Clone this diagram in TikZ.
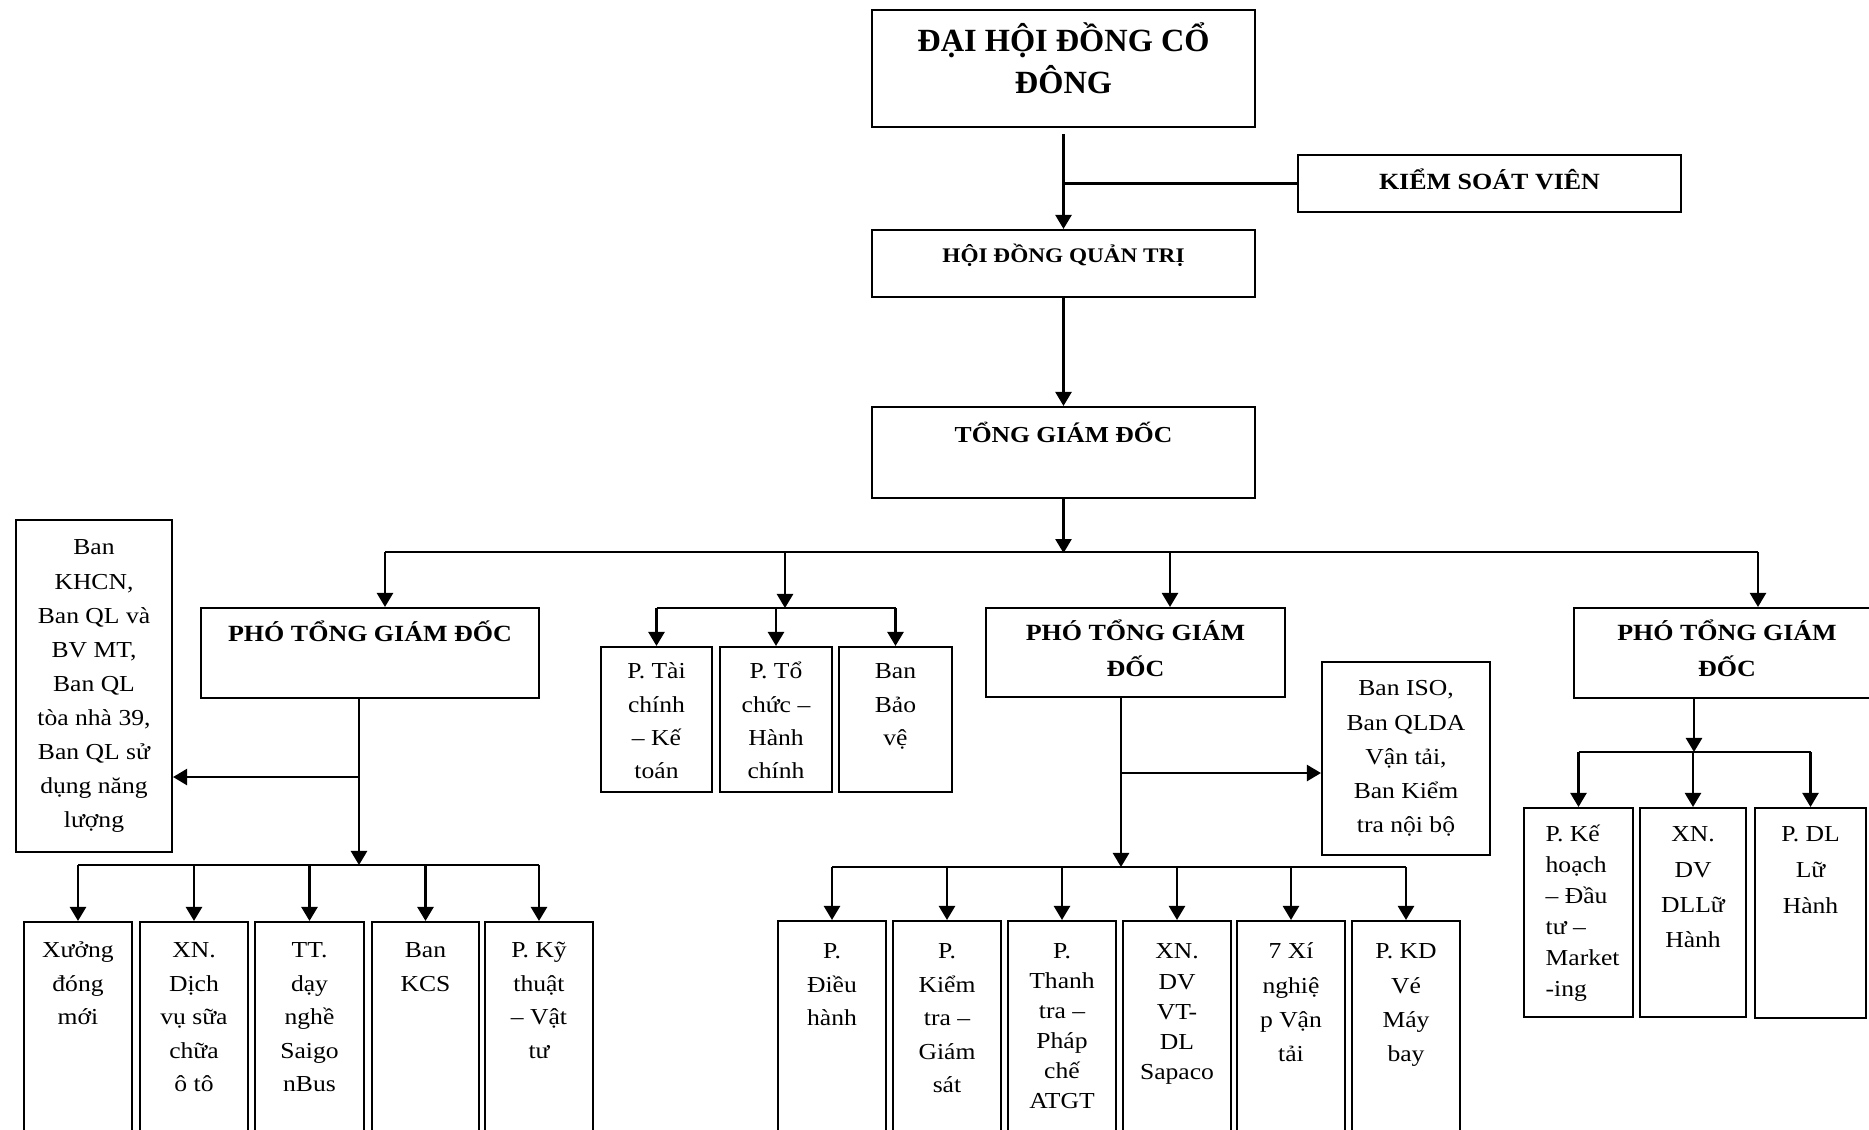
\documentclass[tikz,border=0pt]{standalone}
\usepackage{fontspec}
\setmainfont{Liberation Serif}[FakeStretch=1.12]
\newfontfamily\titlefont{Liberation Serif}
\usetikzlibrary{arrows.meta,fit,calc}
\newcommand\cstack[2]{\vtop{\baselineskip=#1\relax\lineskiplimit=-\maxdimen\lineskip=0pt\halign{\hfil##\hfil\cr#2\crcr}}}
\newcommand\lstack[2]{\vtop{\baselineskip=#1\relax\lineskiplimit=-\maxdimen\lineskip=0pt\halign{##\hfil\cr#2\crcr}}}
\tikzset{
  box/.style={draw, inner sep=0pt, line width=0.6pt},
  ln/.style={line width=0.6pt},
  arr/.style={line width=0.6pt, -{Triangle[width=4.6pt,length=4pt]}},
  txt/.style={inner sep=0pt, anchor=base, font=\fontsize{6.5}{9.5}\selectfont},
  ttl/.style={inner sep=0pt, anchor=base, font=\bfseries\fontsize{6.6}{10}\selectfont},
}
\begin{document}
\begin{tikzpicture}[x=0.01cm,y=-0.01cm]
\clip (0,0) rectangle (1869,1129);
\fill[white] (0,0) rectangle (1869,1129);
% boxes
\node[box,fit={(872,10)(1255,127)}] (dh) {};
\node[box,fit={(1298,155)(1681,212)}] (ksv) {};
\node[box,fit={(872,230)(1255,297)}] (hd) {};
\node[box,fit={(872,407)(1255,498)}] (tgd) {};
\node[box,fit={(201,608)(539,698)}] (p1) {};
\node[box,fit={(986,608)(1285,697)}] (p2) {};
\node[box,fit={(1574,608)(1880,698)}] (p3) {};
\node[box,fit={(16,520)(172,852)}] (khcn) {};
\node[box,fit={(601,647)(712,792)}] (tc) {};
\node[box,fit={(720,647)(832,792)}] (tchc) {};
\node[box,fit={(839,647)(952,792)}] (bv) {};
\node[box,fit={(1322,662)(1490,855)}] (iso) {};
\node[box,fit={(24,922)(132,1160)}] (xuong) {};
\node[box,fit={(140,922)(248,1160)}] (xndv) {};
\node[box,fit={(255,922)(364,1160)}] (tt) {};
\node[box,fit={(372,922)(479,1160)}] (kcs) {};
\node[box,fit={(485,922)(593,1160)}] (kt) {};
\node[box,fit={(778,921)(886,1160)}] (dieu) {};
\node[box,fit={(893,921)(1001,1160)}] (kiem) {};
\node[box,fit={(1008,921)(1116,1160)}] (thanh) {};
\node[box,fit={(1123,921)(1231,1160)}] (sapaco) {};
\node[box,fit={(1237,921)(1345,1160)}] (xinghiep) {};
\node[box,fit={(1352,921)(1460,1160)}] (kdve) {};
\node[box,fit={(1524,808)(1633,1017)}] (kh) {};
\node[box,fit={(1640,808)(1746,1017)}] (dllh) {};
\node[box,fit={(1755,808)(1866,1018)}] (pdl) {};
% texts
\node[inner sep=0pt,anchor=base,font=\titlefont\bfseries\fontsize{9.2}{12}\selectfont] (t-dh) at ($(dh.north)+(0,43)$) {\cstack{11.7pt}{ĐẠI HỘI ĐỒNG CỔ\cr ĐÔNG}};
\node[ttl] (t-ksv) at ($(ksv.north)+(0,36)$) {KIỂM SOÁT VIÊN};
\node[ttl,font=\bfseries\fontsize{5.9}{9}\selectfont] (t-hd) at ($(hd.north)+(0,34)$) {HỘI ĐỒNG QUẢN TRỊ};
\node[ttl,font=\bfseries\fontsize{6.5}{9}\selectfont] (t-tgd) at ($(tgd.north)+(0,37)$) {TỔNG GIÁM ĐỐC};
\node[ttl] (t-p1) at ($(p1.north)+(0,35)$) {PHÓ TỔNG GIÁM ĐỐC};
\node[ttl] (t-p2) at ($(p2.north)+(0,34)$) {\cstack{10pt}{PHÓ TỔNG GIÁM\cr ĐỐC}};
\node[ttl] (t-p3) at ($(p3.north)+(0,34)$) {\cstack{10pt}{PHÓ TỔNG GIÁM\cr ĐỐC}};
\node[txt] (t-khcn) at ($(khcn.north)+(0,36)$) {\cstack{9.7pt}{Ban\cr KHCN,\cr Ban QL và\cr BV MT,\cr Ban QL\cr tòa nhà 39,\cr Ban QL sử\cr dụng năng\cr lượng}};
\node[txt] (t-tc) at ($(tc.north)+(0,33)$) {\cstack{9.4pt}{P. Tài\cr chính\cr – Kế\cr toán}};
\node[txt] (t-tchc) at ($(tchc.north)+(0,33)$) {\cstack{9.4pt}{P. Tổ\cr chức –\cr Hành\cr chính}};
\node[txt] (t-bv) at ($(bv.north)+(0,33)$) {\cstack{9.4pt}{Ban\cr Bảo\cr vệ}};
\node[txt] (t-iso) at ($(iso.north)+(0,35)$) {\cstack{9.7pt}{Ban ISO,\cr Ban QLDA\cr Vận tải,\cr Ban Kiểm\cr tra nội bộ}};
\node[txt] (t-xuong) at ($(xuong.north)+(0,37)$) {\cstack{9.5pt}{Xưởng\cr đóng\cr mới}};
\node[txt] (t-xndv) at ($(xndv.north)+(0,37)$) {\cstack{9.5pt}{XN.\cr Dịch\cr vụ sữa\cr chữa\cr ô tô}};
\node[txt] (t-tt) at ($(tt.north)+(0,37)$) {\cstack{9.5pt}{TT.\cr dạy\cr nghề\cr Saigo\cr nBus}};
\node[txt] (t-kcs) at ($(kcs.north)+(0,37)$) {\cstack{9.5pt}{Ban\cr KCS}};
\node[txt] (t-kt) at ($(kt.north)+(0,37)$) {\cstack{9.5pt}{P. Kỹ\cr thuật\cr – Vật\cr tư}};
\node[txt] (t-dieu) at ($(dieu.north)+(0,39)$) {\cstack{9.5pt}{P.\cr Điều\cr hành}};
\node[txt] (t-kiem) at ($(kiem.north)+(0,39)$) {\cstack{9.5pt}{P.\cr Kiểm\cr tra –\cr Giám\cr sát}};
\node[txt] (t-thanh) at ($(thanh.north)+(0,39)$) {\cstack{8.5pt}{P.\cr Thanh\cr tra –\cr Pháp\cr chế\cr ATGT}};
\node[txt] (t-sapaco) at ($(sapaco.north)+(0,39)$) {\cstack{8.6pt}{XN.\cr DV\cr VT-\cr DL\cr Sapaco}};
\node[txt] (t-xinghiep) at ($(xinghiep.north)+(0,39)$) {\cstack{9.7pt}{7 Xí\cr nghiệ\cr p Vận\cr tải}};
\node[txt] (t-kdve) at ($(kdve.north)+(0,39)$) {\cstack{9.7pt}{P. KD\cr Vé\cr Máy\cr bay}};
\node[txt,anchor=base west] (t-kh) at ($(kh.north west)+(22,35)$) {\lstack{8.8pt}{P. Kế\cr hoạch\cr – Đầu\cr tư –\cr Market\cr -ing}};
\node[txt] (t-dllh) at ($(dllh.north)+(0,35)$) {\cstack{10pt}{XN.\cr DV\cr DLLữ\cr Hành}};
\node[txt] (t-pdl) at ($(pdl.north)+(0,35)$) {\cstack{10.2pt}{P. DL\cr Lữ\cr Hành}};
% connectors top
\draw[arr] ($(dh.south)+(0,6)$) -- (hd.north);
\draw[ln] (ksv.west) -- (ksv.west -| hd.north);
\draw[arr] (hd.south) -- (tgd.north);
\coordinate (bus) at ($(tgd.south)+(0,54)$);
\draw[arr] (tgd.south) -- (bus);
\coordinate (b1) at (385,552);
\coordinate (b2) at (785,552);
\coordinate (b3) at (1170,552);
\coordinate (b4) at (1758,552);
\draw[ln] (b1) -- (b4);
\draw[arr] (b1) -- (b1 |- p1.north);
\coordinate (m) at (785,608);
\draw[arr] (b2) -- (m);
\draw[arr] (b3) -- (b3 |- p2.north);
\draw[arr] (b4) -- (b4 |- p3.north);
% middle group
\draw[ln] (m -| tc.north) -- (m -| bv.north);
\foreach \n in {tc,tchc,bv} \draw[arr] (m -| \n.north) -- (\n.north);
% group 1
\coordinate (g1) at (359,865);
\draw[arr] (p1.south -| g1) -- (g1);
\coordinate (s1) at (359,777);
\draw[arr] (s1) -- (s1 -| khcn.east);
\draw[ln] (g1 -| xuong.north) -- (g1 -| kt.north);
\foreach \n in {xuong,xndv,tt,kcs,kt} \draw[arr] (g1 -| \n.north) -- (\n.north);
% group 2
\coordinate (g2) at (1121,867);
\draw[arr] (p2.south -| g2) -- (g2);
\coordinate (s2) at (1121,773);
\draw[arr] (s2) -- (s2 -| iso.west);
\draw[ln] (g2 -| dieu.north) -- (g2 -| kdve.north);
\foreach \n in {dieu,kiem,thanh,sapaco,xinghiep,kdve} \draw[arr] (g2 -| \n.north) -- (\n.north);
% group 3
\coordinate (g3) at (1694,752);
\draw[arr] (p3.south -| g3) -- (g3);
\draw[ln] (g3 -| kh.north) -- (g3 -| pdl.north);
\foreach \n in {kh,dllh,pdl} \draw[arr] (g3 -| \n.north) -- (\n.north);
\end{tikzpicture}
\end{document}
